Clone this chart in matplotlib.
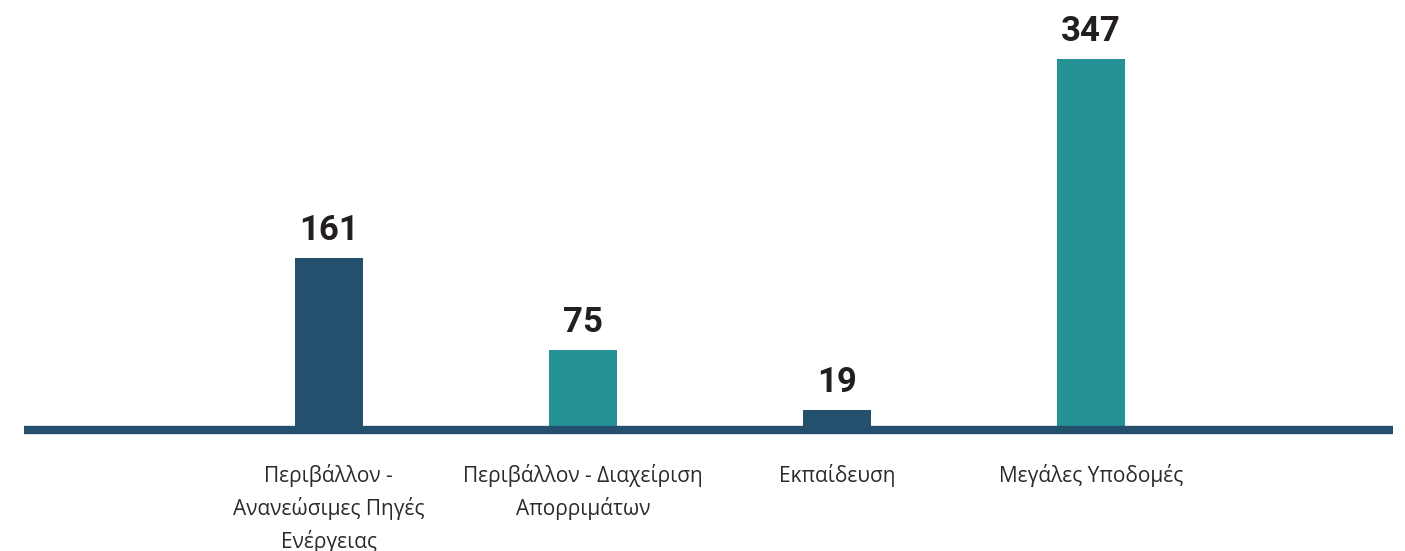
import matplotlib
matplotlib.use("Agg")
import matplotlib.pyplot as plt

categories = ["Περιβάλλον -\nΑνανεώσιμες Πηγές\nΕνέργειας",
              "Περιβάλλον - Διαχείριση\nΑπορριμάτων",
              "Εκπαίδευση",
              "Μεγάλες Υποδομές"]
values = [161, 75, 19, 347]
colors = ["#24506E", "#259396", "#24506E", "#259396"]

fig = plt.figure(figsize=(14.05, 5.51), dpi=100)
ax = fig.add_axes([0.01708, 0.2187, 0.9744, 0.738])

x = list(range(len(values)))
bars = ax.bar(x, values, width=0.268, color=colors, zorder=2)

for xi, v in zip(x, values):
    ax.annotate(str(v), (xi, v), xytext=(0, 8), textcoords="offset points",
                ha="center", va="bottom", fontsize=25, fontweight="bold",
                color="#231F20", family=["Roboto", "DejaVu Sans"])

ax.set_xlim(-1.2, 4.19)
ax.set_ylim(0, 380)
ax.set_xticks(x)
ax.set_xticklabels(categories, fontsize=15, color="#2a2a2a",
                   family=["Open Sans", "DejaVu Sans"], linespacing=1.55)
ax.tick_params(axis="x", length=0, pad=24)
ax.set_yticks([])
for s in ["top", "right", "left"]:
    ax.spines[s].set_visible(False)
ax.spines["bottom"].set_color("#24506E")
ax.spines["bottom"].set_linewidth(6)
ax.spines["bottom"].set_zorder(3)
ax.spines["bottom"].set_capstyle("butt")

fig.savefig("out.png", dpi=100)
